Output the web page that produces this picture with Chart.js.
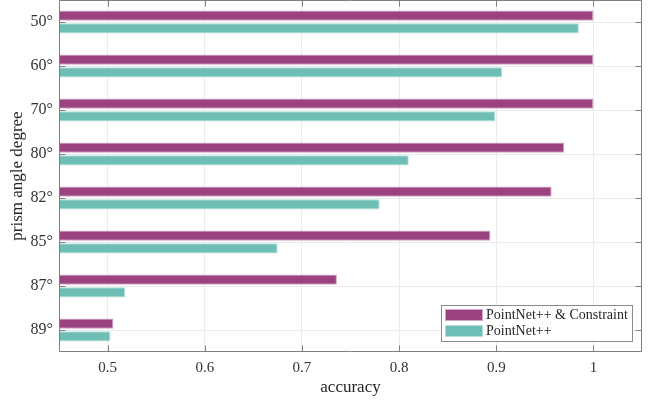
<!DOCTYPE html>
<html>
<head>
<meta charset="utf-8">
<script src="https://cdn.jsdelivr.net/npm/chart.js@4/dist/chart.umd.min.js"></script>
<style>
  html, body { margin: 0; padding: 0; background: #fff; }
  #wrap { width: 650px; height: 402px; position: relative; }
</style>
</head>
<body>
<div id="wrap"><canvas id="c" width="650" height="402"></canvas></div>
<script>
// Prism angles (one row each) and accuracy per model
const angles = ['50°', '60°', '70°', '80°', '82°', '85°', '87°', '89°'];
const constrainedAcc = [1.000, 1.000, 1.000, 0.970, 0.957, 0.894, 0.736, 0.506];
const baselineAcc = [0.985, 0.906, 0.899, 0.810, 0.780, 0.675, 0.518, 0.503];
const xTicks = [0.5, 0.6, 0.7, 0.8, 0.9, 1];
const seriesNames = ['PointNet++ & Constraint', 'PointNet++'];

const SERIF = "'Liberation Serif', 'Times New Roman', serif";
const PURPLE = '#9b4280';
const PURPLE_EDGE = '#d2a7c6';
const TEAL = '#6ebeb5';
const TEAL_EDGE = '#b5e0db';
const AXIS = '#7f7f7f';
const GRID = '#ebebeb';

// Box frame with inward tick marks on all four sides, plus an in-plot legend
const framePlugin = {
  id: 'frame',
  afterDatasetsDraw(chart) {
    const { ctx, chartArea: a, scales } = chart;
    const L = Math.round(a.left) + 0.5, R = Math.round(a.right) - 0.5;
    const T = Math.round(a.top) + 0.5, B = Math.round(a.bottom) - 0.5;
    const len = 6;
    ctx.save();
    ctx.strokeStyle = AXIS;
    ctx.lineWidth = 1;
    ctx.beginPath();
    ctx.moveTo(L, T); ctx.lineTo(L, B); ctx.lineTo(R, B); ctx.lineTo(R, T); ctx.lineTo(L, T);
    xTicks.forEach(v => {
      const px = Math.round(scales.x.getPixelForValue(v)) + 0.5;
      ctx.moveTo(px, B); ctx.lineTo(px, B - len);
      ctx.moveTo(px, T); ctx.lineTo(px, T + len);
    });
    angles.forEach((_, i) => {
      const py = Math.round(scales.y.getPixelForValue(i)) + 0.5;
      ctx.moveTo(L, py); ctx.lineTo(L + len, py);
      ctx.moveTo(R, py); ctx.lineTo(R - len, py);
    });
    ctx.stroke();

    // legend box
    const bx = 441.5, by = 305.5, bw = 191, bh = 36;
    ctx.fillStyle = '#ffffff';
    ctx.fillRect(bx, by, bw, bh);
    ctx.strokeStyle = '#8a8a8a';
    ctx.strokeRect(bx, by, bw, bh);
    const fills = [PURPLE, TEAL];
    const edges = [PURPLE_EDGE, TEAL_EDGE];
    ctx.font = '14px ' + SERIF;
    ctx.textBaseline = 'middle';
    ctx.textAlign = 'left';
    seriesNames.forEach((name, i) => {
      const sy = 309 + i * 16;
      ctx.fillStyle = fills[i];
      ctx.fillRect(445, sy, 38, 12);
      ctx.strokeStyle = edges[i];
      ctx.strokeRect(445.5, sy + 0.5, 37, 11);
      ctx.fillStyle = '#262626';
      ctx.fillText(name, 486, sy + 6.5);
    });
    ctx.restore();
  }
};

new Chart(document.getElementById('c'), {
  type: 'bar',
  data: {
    labels: angles,
    datasets: [
      {
        label: seriesNames[0],
        data: constrainedAcc,
        backgroundColor: PURPLE,
        borderColor: PURPLE_EDGE,
        borderWidth: 1,
        categoryPercentage: 0.575,
        barPercentage: 0.8
      },
      {
        label: seriesNames[1],
        data: baselineAcc,
        backgroundColor: TEAL,
        borderColor: TEAL_EDGE,
        borderWidth: 1,
        categoryPercentage: 0.575,
        barPercentage: 0.8
      }
    ]
  },
  options: {
    indexAxis: 'y',
    responsive: false,
    animation: false,
    devicePixelRatio: 1,
    layout: { padding: { top: -2, right: 8, left: 0, bottom: 0 } },
    plugins: {
      legend: { display: false },
      tooltip: { enabled: false }
    },
    scales: {
      x: {
        type: 'linear',
        position: 'bottom',
        min: 0.45,
        max: 1.05,
        afterBuildTicks(scale) { scale.ticks = xTicks.map(v => ({ value: v })); },
        afterFit(scale) {
          scale.height = 50;
          scale.paddingLeft = 0;
          scale.paddingRight = 0;
        },
        grid: { color: GRID, drawTicks: false },
        border: { display: false },
        ticks: {
          padding: 7,
          color: '#333333',
          font: { family: SERIF, size: 15 },
          callback: v => String(v)
        },
        title: {
          display: true,
          text: 'accuracy',
          color: '#262626',
          font: { family: SERIF, size: 17 },
          padding: { top: 0, bottom: 4 }
        }
      },
      y: {
        type: 'category',
        offset: true,
        afterFit(scale) {
          scale.width = 59;
          scale.paddingTop = 0;
          scale.paddingBottom = 0;
        },
        grid: { color: GRID, drawTicks: false, offset: false },
        border: { display: false },
        ticks: {
          padding: 6,
          color: '#333333',
          font: { family: SERIF, size: 16 }
        },
        title: {
          display: true,
          text: 'prism angle degree',
          color: '#262626',
          font: { family: SERIF, size: 17 },
          padding: { top: 7, bottom: 0 }
        }
      }
    }
  },
  plugins: [framePlugin]
});
</script>
</body>
</html>
